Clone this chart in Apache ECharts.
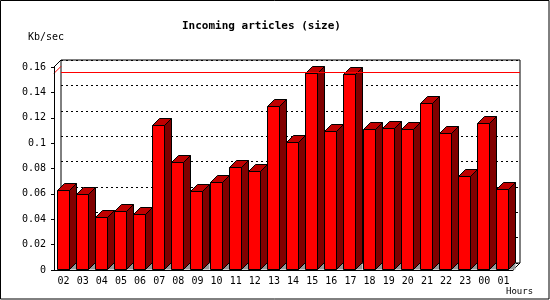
<!DOCTYPE html>
<html>
<head>
<meta charset="utf-8">
<title>Incoming articles (size)</title>
<script src="https://cdn.jsdelivr.net/npm/echarts@6/dist/echarts.min.js"></script>
<style>
  html, body { margin: 0; padding: 0; background: #fff; }
  #chart { width: 550px; height: 300px; }
</style>
</head>
<body>
<div id="chart"></div>
<script>
// data
var hours = ['02', '03', '04', '05', '06', '07', '08', '09', '10', '11', '12', '13',
             '14', '15', '16', '17', '18', '19', '20', '21', '22', '23', '00', '01'];
var sizeKb = [0.0634, 0.0602, 0.0420, 0.0468, 0.0439, 0.1139, 0.0855, 0.0620, 0.0697, 0.0815, 0.0784, 0.1292,
              0.1005, 0.1550, 0.1094, 0.1542, 0.1108, 0.1116, 0.1108, 0.1313, 0.1076, 0.0741, 0.1155, 0.0642];
var yTickLabels = ['0', '0.02', '0.04', '0.06', '0.08', '0.1', '0.12', '0.14', '0.16'];

var MONO = 'DejaVu Sans Mono';
var DEPTH = 7;
var front = { left: 54, top: 67, right: 513, bottom: 270 };
var maxKb = Math.max.apply(null, sizeKb);

var barData = [];
for (var i = 0; i < hours.length; i++) {
  barData.push([i, sizeKb[i]]);
}

function renderBar(params, api) {
  var idx = api.value(0);
  var top = api.coord([idx, api.value(1)]);
  var base = api.coord([idx, 0]);
  var w = Math.round(api.size([1, 0])[0] * 0.62);
  var x0 = Math.round(top[0] - w / 2) - 0.5;
  var x1 = x0 + w;
  var yt = Math.round(top[1]) + 0.5;
  var yb = base[1] - 0.5;
  var d = DEPTH;
  return {
    type: 'group',
    children: [
      { type: 'polygon', shape: { points: [[x1, yb], [x1 + d, yb - d], [x1 + d, yb]] },
        style: { fill: '#999999' } },
      { type: 'polygon', shape: { points: [[x1, yt], [x1 + d, yt - d], [x1 + d, yb - d], [x1, yb]] },
        style: { fill: '#800000', stroke: '#000', lineWidth: 1 } },
      { type: 'polygon', shape: { points: [[x0, yt], [x0 + d, yt - d], [x1 + d, yt - d], [x1, yt]] },
        style: { fill: '#c00000', stroke: '#000', lineWidth: 1 } },
      { type: 'rect', shape: { x: x0, y: yt, width: w, height: yb - yt },
        style: { fill: '#ff0000', stroke: '#000', lineWidth: 1 } }
    ]
  };
}

var chart = echarts.init(document.getElementById('chart'));
chart.setOption({
  animation: false,
  backgroundColor: '#fff',
  title: [{
    text: 'Incoming articles (size)',
    left: 182, top: 21, padding: 0,
    textStyle: { fontFamily: MONO, fontWeight: 'bold', fontSize: 11, color: '#000' }
  }, {
    text: 'Kb/sec',
    left: 28, top: 32, padding: 0,
    textStyle: { fontFamily: MONO, fontWeight: 'normal', fontSize: 10, color: '#000' }
  }, {
    text: 'Hours',
    left: 506, top: 287, padding: 0,
    textStyle: { fontFamily: MONO, fontWeight: 'normal', fontSize: 9, color: '#000' }
  }],
  grid: [{
    left: front.left, top: front.top, right: 550 - front.right, bottom: 300 - front.bottom
  }, {
    show: true, backgroundColor: 'transparent', borderColor: '#000', borderWidth: 1,
    left: front.left + DEPTH, top: front.top - DEPTH,
    right: 550 - front.right - DEPTH, bottom: 300 - front.bottom + DEPTH
  }],
  xAxis: [{
    gridIndex: 0, type: 'category', data: hours,
    axisLine: { lineStyle: { color: '#000', width: 1 } },
    axisTick: { length: 4, lineStyle: { color: '#000' } },
    axisLabel: { fontFamily: MONO, fontSize: 10, color: '#000', margin: 6 }
  }, {
    gridIndex: 1, type: 'category', data: hours, show: false
  }],
  yAxis: [{
    gridIndex: 0, type: 'value', min: 0, max: 0.16, interval: 0.02,
    axisLine: { show: true, lineStyle: { color: '#000', width: 1 } },
    axisTick: { show: true, length: 3, lineStyle: { color: '#000' } },
    axisLabel: {
      fontFamily: MONO, fontSize: 10, color: '#000', margin: 8,
      formatter: function (v, i) { return yTickLabels[i]; }
    },
    splitLine: { show: false }
  }, {
    gridIndex: 1, type: 'value', min: 0, max: 0.16, interval: 0.02,
    axisLine: { show: false }, axisTick: { show: false }, axisLabel: { show: false },
    splitLine: { show: true, lineStyle: { color: '#000', type: [2, 3], width: 1 } }
  }],
  series: [{
    type: 'line', xAxisIndex: 1, yAxisIndex: 1, data: sizeKb,
    symbol: 'none', silent: true, z: 1,
    lineStyle: { opacity: 0 },
    markLine: {
      symbol: 'none', silent: true, label: { show: false },
      lineStyle: { color: '#ff0000', type: 'solid', width: 1 },
      data: [{ yAxis: maxKb }]
    }
  }, {
    type: 'custom', xAxisIndex: 0, yAxisIndex: 0, z: 3,
    data: barData,
    encode: { x: 0, y: 1 },
    renderItem: renderBar
  }]
});

// frame edges and the max line's step from the front axis to the back wall
var maxFront = chart.convertToPixel({ yAxisIndex: 0 }, maxKb);
var maxBack = chart.convertToPixel({ yAxisIndex: 1 }, maxKb);
chart.setOption({
  graphic: [
    { type: 'rect', shape: { x: 0.5, y: 0.5, width: 548.5, height: 298.5 },
      style: { fill: 'none', stroke: '#000', lineWidth: 1 }, z: 10 },
    { type: 'line', shape: { x1: front.left, y1: front.top, x2: front.left + DEPTH, y2: front.top - DEPTH },
      style: { stroke: '#000', lineWidth: 1 } },
    { type: 'line', shape: { x1: front.right, y1: front.bottom, x2: front.right + DEPTH, y2: front.bottom - DEPTH },
      style: { stroke: '#000', lineWidth: 1 } },
    { type: 'line', shape: { x1: front.left, y1: maxFront, x2: front.left + DEPTH, y2: maxBack },
      style: { stroke: '#ff0000', lineWidth: 1 } }
  ]
});
</script>
</body>
</html>
